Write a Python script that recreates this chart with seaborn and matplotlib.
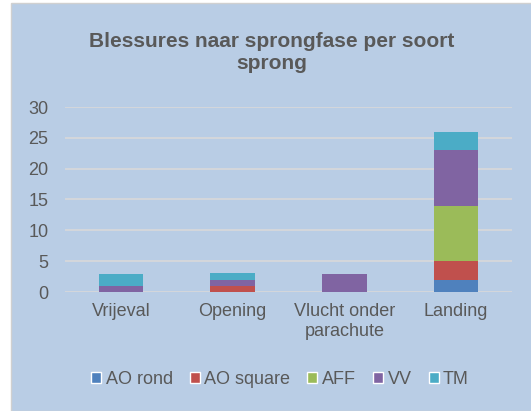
import numpy as np
import pandas as pd
import matplotlib.pyplot as plt
import seaborn as sns
from matplotlib.patches import Rectangle

# data
phases = ["Vrijeval", "Opening", "Vlucht onder\nparachute", "Landing"]
series = ["AO rond", "AO square", "AFF", "VV", "TM"]
ao_rond = [0, 0, 0, 2]
ao_square = [0, 1, 0, 3]
aff = [0, 0, 0, 9]
vv = [1, 1, 3, 9]
tm = [2, 1, 0, 3]
values = [ao_rond, ao_square, aff, vv, tm]
colors = ["#4F81BD", "#C0504D", "#9BBB59", "#8064A2", "#4BACC6"]

sns.set_style("white")
plt.rcParams["font.family"] = ["Liberation Sans", "DejaVu Sans"]
text_col = "#595959"
bg = "#B9CDE5"

fig = plt.figure(figsize=(5.31, 4.11), dpi=100, facecolor="white")
fig.patches.append(Rectangle((10.5 / 531, 0), 1, 1 - 3.5 / 411, transform=fig.transFigure,
                             facecolor=bg, edgecolor="#D0D0D0", linewidth=1, zorder=-1))
ax = fig.add_axes([65 / 531, 1 - 292 / 411, (512 - 65) / 531, (292 - 107) / 411])
ax.set_facecolor(bg)

# stacked bars, one barplot call per series
bottom = np.zeros(len(phases))
for name, vals, c in zip(series, values, colors):
    df = pd.DataFrame({"fase": phases, "n": vals})
    sns.barplot(data=df, x="fase", y="n", color=c, width=0.4, bottom=bottom,
                saturation=1, linewidth=0, ax=ax, zorder=3)
    bottom += np.array(vals)

ax.set_ylim(0, 30)
ax.set_yticks(range(0, 31, 5))
ax.yaxis.grid(True, color="#D9D9D9", linewidth=1.2, zorder=0)
ax.set_axisbelow(True)
for s in ax.spines.values():
    s.set_visible(False)
ax.set_xlabel("")
ax.set_ylabel("")
ax.tick_params(axis="both", length=0, labelsize=13, colors=text_col)
ax.tick_params(axis="y", pad=12)
ax.tick_params(axis="x", pad=8)
ax.set_xlim(-0.5, 3.5)

fig.text(272 / 531, 1 - 52 / 411, "Blessures naar sprongfase per soort\nsprong",
         ha="center", va="center", fontsize=15, fontweight="bold", color=text_col,
         linespacing=1.2)

handles = [Rectangle((0, 0), 1, 1, facecolor=c) for c in colors]
leg = fig.legend(handles, series, loc="center", bbox_to_anchor=(280 / 531, 1 - 379 / 411),
                 ncol=5, frameon=False, fontsize=13, handlelength=0.55, handleheight=0.55,
                 handletextpad=0.25, columnspacing=0.95)
for t in leg.get_texts():
    t.set_color(text_col)

fig.savefig("out.png", dpi=100, facecolor="white")
